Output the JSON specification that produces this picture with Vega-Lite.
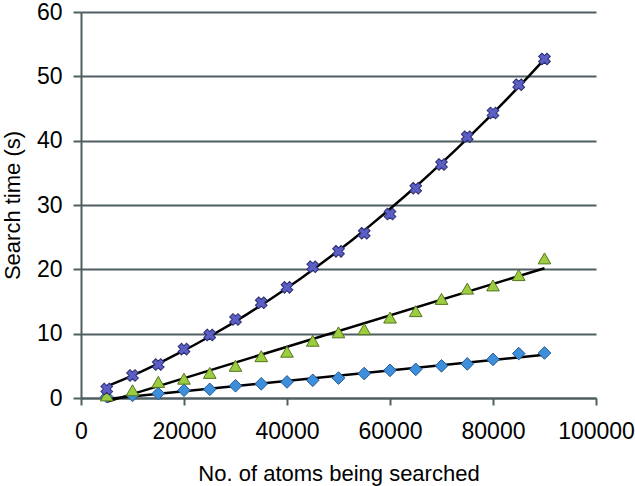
{
  "$schema": "https://vega.github.io/schema/vega-lite/v6.json",
  "autosize": "none",
  "width": 515,
  "height": 386,
  "padding": {"left": 81, "top": 12, "right": 39, "bottom": 88},
  "background": "white",
  "config": {
    "font": "Liberation Sans",
    "view": {"stroke": null},
    "axis": {
      "domainColor": "#4f5e62",
      "domainWidth": 2,
      "tickColor": "#4f5e62",
      "tickWidth": 2,
      "gridColor": "#4f5e62",
      "gridWidth": 2,
      "gridOpacity": 1,
      "labelFont": "Liberation Sans",
      "labelFontSize": 23,
      "labelColor": "#000000",
      "titleFont": "Liberation Sans",
      "titleFontSize": 22,
      "titleFontWeight": "normal",
      "titleColor": "#000000"
    }
  },
  "data": {
    "values": [
      {"atoms": 5000, "time": 0.2, "series": "A"},
      {"atoms": 10000, "time": 0.4, "series": "A"},
      {"atoms": 15000, "time": 0.7, "series": "A"},
      {"atoms": 20000, "time": 1.2, "series": "A"},
      {"atoms": 25000, "time": 1.35, "series": "A"},
      {"atoms": 30000, "time": 1.9, "series": "A"},
      {"atoms": 35000, "time": 2.2, "series": "A"},
      {"atoms": 40000, "time": 2.5, "series": "A"},
      {"atoms": 45000, "time": 2.75, "series": "A"},
      {"atoms": 50000, "time": 3.1, "series": "A"},
      {"atoms": 55000, "time": 3.8, "series": "A"},
      {"atoms": 60000, "time": 4.3, "series": "A"},
      {"atoms": 65000, "time": 4.45, "series": "A"},
      {"atoms": 70000, "time": 5.0, "series": "A"},
      {"atoms": 75000, "time": 5.3, "series": "A"},
      {"atoms": 80000, "time": 6.0, "series": "A"},
      {"atoms": 85000, "time": 6.9, "series": "A"},
      {"atoms": 90000, "time": 7.0, "series": "A"},
      {"atoms": 5000, "time": 0.4, "series": "B"},
      {"atoms": 10000, "time": 1.2, "series": "B"},
      {"atoms": 15000, "time": 2.5, "series": "B"},
      {"atoms": 20000, "time": 3.0, "series": "B"},
      {"atoms": 25000, "time": 3.9, "series": "B"},
      {"atoms": 30000, "time": 5.0, "series": "B"},
      {"atoms": 35000, "time": 6.5, "series": "B"},
      {"atoms": 40000, "time": 7.2, "series": "B"},
      {"atoms": 45000, "time": 8.9, "series": "B"},
      {"atoms": 50000, "time": 10.2, "series": "B"},
      {"atoms": 55000, "time": 10.7, "series": "B"},
      {"atoms": 60000, "time": 12.5, "series": "B"},
      {"atoms": 65000, "time": 13.5, "series": "B"},
      {"atoms": 70000, "time": 15.4, "series": "B"},
      {"atoms": 75000, "time": 17.0, "series": "B"},
      {"atoms": 80000, "time": 17.5, "series": "B"},
      {"atoms": 85000, "time": 19.1, "series": "B"},
      {"atoms": 90000, "time": 21.7, "series": "B"},
      {"atoms": 5000, "time": 1.4, "series": "C"},
      {"atoms": 10000, "time": 3.5, "series": "C"},
      {"atoms": 15000, "time": 5.2, "series": "C"},
      {"atoms": 20000, "time": 7.6, "series": "C"},
      {"atoms": 25000, "time": 9.8, "series": "C"},
      {"atoms": 30000, "time": 12.2, "series": "C"},
      {"atoms": 35000, "time": 14.8, "series": "C"},
      {"atoms": 40000, "time": 17.2, "series": "C"},
      {"atoms": 45000, "time": 20.4, "series": "C"},
      {"atoms": 50000, "time": 22.8, "series": "C"},
      {"atoms": 55000, "time": 25.6, "series": "C"},
      {"atoms": 60000, "time": 28.6, "series": "C"},
      {"atoms": 65000, "time": 32.6, "series": "C"},
      {"atoms": 70000, "time": 36.3, "series": "C"},
      {"atoms": 75000, "time": 40.6, "series": "C"},
      {"atoms": 80000, "time": 44.3, "series": "C"},
      {"atoms": 85000, "time": 48.7, "series": "C"},
      {"atoms": 90000, "time": 52.7, "series": "C"}
    ]
  },
  "encoding": {
    "x": {
      "field": "atoms",
      "type": "quantitative",
      "scale": {"domain": [0, 100000], "nice": false},
      "axis": {
        "title": "No. of atoms being searched",
        "values": [0, 20000, 40000, 60000, 80000, 100000],
        "format": "d",
        "grid": false,
        "tickSize": 7,
        "labelPadding": 15,
        "titlePadding": 20,
        "labelFlush": false,
        "labelOverlap": false
      }
    },
    "y": {
      "field": "time",
      "type": "quantitative",
      "scale": {"domain": [0, 60], "nice": false},
      "axis": {
        "title": "Search time (s)",
        "values": [0, 10, 20, 30, 40, 50, 60],
        "grid": true,
        "tickSize": 8,
        "labelPadding": 11,
        "titlePadding": 12,
        "labelFlush": false
      }
    }
  },
  "layer": [
    {
      "transform": [
        {"filter": "datum.series !== 'C'"},
        {"regression": "time", "on": "atoms", "groupby": ["series"], "method": "linear", "extent": [5000, 90000]}
      ],
      "mark": {"type": "line", "color": "#000000", "strokeWidth": 2.5},
      "encoding": {"detail": {"field": "series"}}
    },
    {
      "transform": [
        {"filter": "datum.series === 'C'"},
        {"regression": "time", "on": "atoms", "method": "poly", "order": 2, "extent": [5000, 90000]}
      ],
      "mark": {"type": "line", "color": "#000000", "strokeWidth": 2.5},
      "encoding": {}
    },
    {
      "transform": [{"filter": "datum.series === 'A'"}],
      "mark": {"type": "point", "shape": "diamond", "filled": true, "size": 160, "fill": "#3d8fdc", "stroke": "#27598f", "strokeWidth": 1, "opacity": 1}
    },
    {
      "transform": [{"filter": "datum.series === 'B'"}],
      "mark": {"type": "point", "shape": "triangle-up", "filled": true, "size": 160, "fill": "#9ccc40", "stroke": "#55751e", "strokeWidth": 1, "opacity": 1}
    },
    {
      "transform": [{"filter": "datum.series === 'C'"}],
      "mark": {"type": "point", "shape": "cross", "angle": 45, "filled": true, "size": 140, "fill": "#5b5ec4", "stroke": "#2c2e6e", "strokeWidth": 1, "opacity": 1}
    }
  ]
}
